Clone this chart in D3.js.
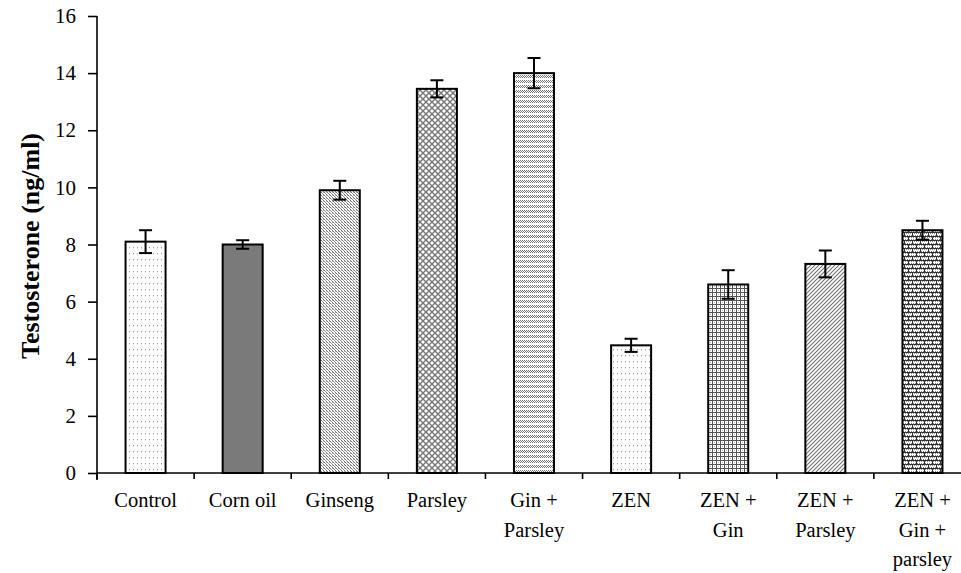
<!DOCTYPE html>
<html><head><meta charset="utf-8">
<script src="https://cdn.jsdelivr.net/npm/d3@7"></script>
<style>
html,body{margin:0;padding:0;background:#fff;}
svg{display:block;}
svg text{font-family:"Liberation Serif","Times New Roman",serif !important;}
</style></head>
<body><svg id="chart" width="961" height="573"></svg>
<script>
const categories = [["Control"],["Corn oil"],["Ginseng"],["Parsley"],["Gin +","Parsley"],["ZEN"],["ZEN +","Gin"],["ZEN +","Parsley"],["ZEN +","Gin +","parsley"]];
const values = [8.1, 8.0, 9.9, 13.45, 14.0, 4.47, 6.6, 7.32, 8.5];
const errors = [0.4, 0.15, 0.33, 0.3, 0.53, 0.23, 0.5, 0.47, 0.33];
const patterns = ["dots","solid","fine","diamond","hstripe","dots","grid","diag","brick"];
const yTicks = [0,2,4,6,8,10,12,14,16];
const yTitle = "Testosterone (ng/ml)";

const svg = d3.select("#chart");
const defs = svg.append("defs");

function pat(id, w, h, draw){
  const p = defs.append("pattern").attr("id", id).attr("patternUnits","userSpaceOnUse")
    .attr("width", w).attr("height", h);
  p.append("rect").attr("width", w).attr("height", h).attr("fill","#fff");
  draw(p);
}
pat("dots", 4, 6, p => {
  p.append("rect").attr("x",1).attr("y",1).attr("width",1).attr("height",1).attr("fill","#999");
  p.append("rect").attr("x",1).attr("y",2).attr("width",1).attr("height",1).attr("fill","#ddd");
});
pat("solid", 4, 4, p => { p.select("rect").attr("fill","#7a7a7a"); });
pat("fine", 3, 3, p => {
  p.append("rect").attr("x",0).attr("y",0).attr("width",1).attr("height",1).attr("fill","#777");
  p.append("rect").attr("x",1).attr("y",1).attr("width",1).attr("height",1).attr("fill","#999");
  p.append("rect").attr("x",2).attr("y",2).attr("width",1).attr("height",1).attr("fill","#777");
  p.append("rect").attr("x",2).attr("y",0).attr("width",1).attr("height",1).attr("fill","#bbb");
});
pat("diamond", 6, 6, p => {
  p.append("path").attr("d","M0,0L6,6M6,0L0,6").attr("stroke","#777").attr("stroke-width",1.4);
  p.append("path").attr("d","M-1,5L1,7M5,-1L7,1").attr("stroke","#777").attr("stroke-width",1.4);
});
pat("hstripe", 2, 5, p => {
  p.append("rect").attr("x",0).attr("y",0).attr("width",1).attr("height",1).attr("fill","#777");
  p.append("rect").attr("x",1).attr("y",1).attr("width",1).attr("height",1).attr("fill","#777");
  p.append("rect").attr("x",0).attr("y",2).attr("width",1).attr("height",1).attr("fill","#777");
});
pat("grid", 4, 4, p => {
  p.append("rect").attr("x",0).attr("y",0).attr("width",1).attr("height",4).attr("fill","#555");
  p.append("rect").attr("x",0).attr("y",0).attr("width",4).attr("height",1).attr("fill","#555");
  p.append("rect").attr("x",2).attr("y",2).attr("width",1).attr("height",1).attr("fill","#bbb");
});
pat("diag", 4, 4, p => {
  p.append("path").attr("d","M-1,5L5,-1M3,5L5,3M-1,1L1,-1").attr("stroke","#777").attr("stroke-width",1.2);
});
pat("brick", 8, 8, p => {
  for (let yy=1; yy<4; yy+=2) for (let xx=0; xx<8; xx+=2)
    p.append("rect").attr("x",xx+(yy%4===1?0:1)).attr("y",yy).attr("width",1).attr("height",1).attr("fill","#888");
  for (let yy=5; yy<8; yy+=2) for (let xx=1; xx<8; xx+=2)
    p.append("rect").attr("x",xx).attr("y",yy).attr("width",1).attr("height",1).attr("fill","#888");
  p.append("rect").attr("x",0).attr("y",0).attr("width",8).attr("height",1).attr("fill","#333");
  p.append("rect").attr("x",0).attr("y",4).attr("width",8).attr("height",1).attr("fill","#333");
  p.append("rect").attr("x",0).attr("y",0).attr("width",1).attr("height",4).attr("fill","#333");
  p.append("rect").attr("x",4).attr("y",4).attr("width",1).attr("height",4).attr("fill","#333");
});

const x0 = 97, x1 = 971, yBottom = 473, yTop = 16;
const x = d3.scaleBand().domain(d3.range(categories.length)).range([x0, x1]).padding(0);
const y = d3.scaleLinear().domain([0,16]).range([yBottom, yTop]);
const barW = x.bandwidth() * 0.412;

const g = svg.append("g");
g.selectAll("rect.bar").data(values).join("rect").attr("class","bar")
  .attr("x", (d,i) => x(i) + x.bandwidth()/2 - barW/2)
  .attr("y", d => y(d))
  .attr("width", barW)
  .attr("height", d => y(0) - y(d))
  .attr("fill", (d,i) => "url(#" + patterns[i] + ")")
  .attr("stroke","#000").attr("stroke-width",2);

const capW = 13;
const eb = g.selectAll("g.err").data(values).join("g").attr("class","err")
  .attr("stroke","#000").attr("stroke-width",2);
const cx = i => x(i) + x.bandwidth()/2;
eb.append("line").attr("x1",(d,i)=>cx(i)).attr("x2",(d,i)=>cx(i))
  .attr("y1",(d,i)=>y(d+errors[i])).attr("y2",(d,i)=>y(d-errors[i]));
eb.append("line").attr("x1",(d,i)=>cx(i)-capW/2).attr("x2",(d,i)=>cx(i)+capW/2)
  .attr("y1",(d,i)=>y(d+errors[i])).attr("y2",(d,i)=>y(d+errors[i]));
eb.append("line").attr("x1",(d,i)=>cx(i)-capW/2).attr("x2",(d,i)=>cx(i)+capW/2)
  .attr("y1",(d,i)=>y(d-errors[i])).attr("y2",(d,i)=>y(d-errors[i]));

const yAxis = svg.append("g").attr("transform",`translate(${x0},0)`)
  .call(d3.axisLeft(y).tickValues(yTicks).tickSize(9).tickPadding(12).tickSizeOuter(0));
yAxis.select(".domain").attr("stroke","#000").attr("stroke-width",1.6).attr("d","M0,16V480");
yAxis.selectAll(".tick line").attr("stroke","#000").attr("stroke-width",1.6);
yAxis.selectAll(".tick text").attr("font-size",21).attr("fill","#000");

const xAxis = svg.append("g").attr("transform",`translate(0,${yBottom})`);
xAxis.append("line").attr("x1",x0).attr("x2",x1).attr("stroke","#000").attr("stroke-width",1.6);
xAxis.selectAll("line.t").data(d3.range(categories.length)).join("line").attr("class","t")
  .attr("x1",i=>x(i)).attr("x2",i=>x(i)).attr("y1",0).attr("y2",6)
  .attr("stroke","#000").attr("stroke-width",1.6);
const labs = xAxis.selectAll("text").data(categories).join("text")
  .attr("text-anchor","middle").attr("font-size",20.5).attr("fill","#000")
  .attr("x",(d,i)=>cx(i));
labs.selectAll("tspan").data(d=>d).join("tspan")
  .attr("x",function(){return this.parentNode.getAttribute("x");})
  .attr("y",(d,j)=>34 + j*29.5).text(d=>d);

svg.append("text").attr("transform","translate(39,246) rotate(-90)")
  .attr("text-anchor","middle").attr("font-size",26).attr("font-weight","bold").text(yTitle);
</script></body></html>
